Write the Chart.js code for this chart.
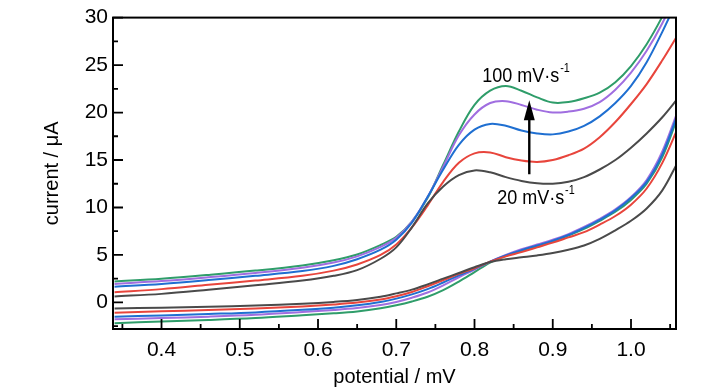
<!DOCTYPE html>
<html><head><meta charset="utf-8">
<script src="https://cdn.jsdelivr.net/npm/chart.js@4"></script>
<style>html,body{margin:0;padding:0;background:#fff}#wrap{width:728px;height:390px;position:relative}</style>
</head><body><div id="wrap"><canvas id="c"></canvas></div>
<script>
// potential grid (axis labelled mV in source)
const potential = [0.34,0.40,0.46,0.52,0.58,0.62,0.65,0.68,0.70,0.72,0.74,0.76,0.78,0.80,0.82,0.84,0.86,0.88,0.90,0.92,0.94,0.96,0.98,1.00,1.02,1.04,1.06];
const scanRates = ['20 mV/s','40 mV/s','60 mV/s','80 mV/s','100 mV/s'];
// forward (upper) branches
const forward20  = [0.63,0.9,1.33,1.8,2.3,2.8,3.4,4.6,5.8,7.9,10.4,12.2,13.4,13.9,13.7,13.2,12.8,12.55,12.5,12.7,13.2,14.0,15.0,16.3,17.8,19.5,21.5];
const forward40  = [1.08,1.4,1.85,2.3,2.8,3.35,4.0,5.0,6.1,7.9,10.2,12.7,14.7,15.7,15.8,15.3,14.95,14.8,15.0,15.5,16.2,17.4,19.0,20.9,23.0,25.5,28.2];
const forward60  = [1.65,1.95,2.35,2.8,3.3,3.85,4.55,5.55,6.6,8.4,11.1,14.0,16.6,18.2,18.8,18.6,18.1,17.8,17.7,18.0,18.6,19.6,21.0,22.8,25.3,28.5,32.0];
const forward80  = [1.95,2.25,2.65,3.1,3.65,4.2,4.85,5.85,6.8,8.5,11.1,14.3,17.6,19.8,21.0,21.2,20.8,20.3,20.0,20.1,20.4,21.1,22.4,24.2,26.5,29.4,33.0];
const forward100 = [2.2,2.5,2.9,3.35,3.9,4.45,5.05,6.05,6.9,8.5,11.0,14.5,18.0,20.8,22.3,22.8,22.3,21.6,21.05,21.1,21.5,22.1,23.2,24.9,27.2,30.1,33.5];
// reverse (lower) branches
const reverse20  = [-0.65,-0.55,-0.45,-0.32,-0.13,0.05,0.25,0.6,0.95,1.35,1.9,2.5,3.1,3.7,4.25,4.55,4.75,4.95,5.2,5.55,6.0,6.7,7.6,8.6,9.9,11.8,14.8];
const reverse40  = [-1.08,-0.93,-0.8,-0.65,-0.42,-0.22,-0.02,0.3,0.65,1.1,1.7,2.35,3.0,3.6,4.3,4.85,5.3,5.8,6.3,6.85,7.4,8.2,9.1,10.3,12.0,14.7,18.4];
const reverse60  = [-1.5,-1.37,-1.22,-1.05,-0.78,-0.55,-0.3,0.05,0.4,0.85,1.4,2.1,2.85,3.55,4.3,4.95,5.5,6.0,6.5,7.1,7.85,8.7,9.7,11.0,12.7,15.6,19.9];
const reverse80  = [-1.78,-1.65,-1.5,-1.3,-1.0,-0.8,-0.6,-0.28,0.05,0.5,1.05,1.8,2.65,3.45,4.3,5.0,5.6,6.1,6.6,7.2,7.95,8.8,9.8,11.1,12.9,15.9,20.2];
const reverse100 = [-2.2,-2.0,-1.85,-1.65,-1.35,-1.15,-0.95,-0.62,-0.3,0.1,0.6,1.3,2.2,3.2,4.2,4.9,5.45,5.95,6.45,7.05,7.75,8.6,9.55,10.8,12.5,15.3,19.6];
// ticks
const xTickLabels = [0.4,0.5,0.6,0.7,0.8,0.9,1.0];
const xMinorTicks = [0.35,0.45,0.55,0.65,0.75,0.85,0.95,1.05];
const yTickLabels = [0,5,10,15,20,25,30];
const yMinorTicks = [-2.5,2.5,7.5,12.5,17.5,22.5,27.5];

const colors = ['#4a4a4a','#e8453c','#1f6fd1','#a06ee0','#2f9d6a'];
const forwards = [forward20,forward40,forward60,forward80,forward100];
const reverses = [reverse20,reverse40,reverse60,reverse80,reverse100];

const datasets = [];
scanRates.forEach((name,i)=>{
  const mk = (arr,suffix)=>({
    label: name+suffix,
    data: potential.map((x,k)=>({x:x,y:arr[k]})),
    showLine:true, borderColor:colors[i], backgroundColor:colors[i],
    borderWidth:2, pointRadius:0, tension:0.35, fill:false
  });
  datasets.push(mk(reverses[i],' reverse'));
  datasets.push(mk(forwards[i],' forward'));
});

const FONT = '"Liberation Sans", Arial, sans-serif';

const frame = {
  id:'frame',
  afterDatasetsDraw(chart){
    const {ctx, chartArea:a, scales:{x,y}} = chart;
    ctx.save();
    ctx.strokeStyle='#000';
    ctx.lineWidth=1.8;
    ctx.beginPath();
    const seg=(x1,y1,x2,y2)=>{ctx.moveTo(x1,y1);ctx.lineTo(x2,y2);};
    xTickLabels.forEach(v=>{const p=x.getPixelForValue(v); seg(p,a.bottom,p,a.bottom-10);});
    xMinorTicks.forEach(v=>{const p=x.getPixelForValue(v); seg(p,a.bottom,p,a.bottom-5);});
    yTickLabels.forEach(v=>{const p=y.getPixelForValue(v); seg(a.left,p,a.left+10,p);});
    yMinorTicks.forEach(v=>{const p=y.getPixelForValue(v); if(p<a.bottom) seg(a.left,p,a.left+5,p);});
    ctx.stroke();
    ctx.lineWidth=2;
    ctx.strokeRect(a.left,a.top,a.right-a.left,a.bottom-a.top);
    // annotations
    const label=(xv,yv,main,sup)=>{
      const px=x.getPixelForValue(xv), py=y.getPixelForValue(yv);
      ctx.save();
      ctx.translate(px,py);
      ctx.scale(0.9,1);
      ctx.fillStyle='#000';
      ctx.textBaseline='middle'; ctx.textAlign='left';
      ctx.font='20px '+FONT;
      ctx.fillText(main,0,0);
      const w=ctx.measureText(main).width;
      ctx.font='12px '+FONT;
      ctx.fillText(sup,w+1,-8);
      ctx.restore();
    };
    label(0.81,23.8,'100 mV\u00B7s','-1');
    label(0.829,10.9,'20 mV\u00B7s','-1');
    // arrow
    const ax=x.getPixelForValue(0.87), y0=y.getPixelForValue(13.5), y1=y.getPixelForValue(21.3);
    ctx.lineWidth=2.4;
    ctx.beginPath(); ctx.moveTo(ax,y0); ctx.lineTo(ax,y1+14); ctx.stroke();
    ctx.fillStyle='#000';
    ctx.beginPath(); ctx.moveTo(ax,y1); ctx.lineTo(ax-5.5,y1+20); ctx.lineTo(ax+5.5,y1+20); ctx.closePath(); ctx.fill();
    ctx.restore();
  }
};

new Chart(document.getElementById('c'),{
  type:'scatter',
  data:{datasets},
  options:{
    responsive:true, maintainAspectRatio:false, animation:false,
    layout:{padding:{top:13,right:52,left:0,bottom:0}},
    plugins:{legend:{display:false},tooltip:{enabled:false}},
    scales:{
      x:{type:'linear',min:0.338,max:1.0575,
        afterBuildTicks:s=>{s.ticks=xTickLabels.map(v=>({value:v}));},
        afterFit:s=>{s.height=61;},
        grid:{display:false,drawTicks:false},
        border:{display:false},
        ticks:{color:'#000',font:{family:FONT,size:21},padding:9,maxRotation:0,callback:v=>Number(v).toFixed(1)},
        title:{display:true,text:'potential / mV',color:'#000',font:{family:FONT,size:20},padding:{top:0,bottom:1}}
      },
      y:{type:'linear',min:-2.8,max:30,
        afterBuildTicks:s=>{s.ticks=yTickLabels.map(v=>({value:v}));},
        afterFit:s=>{s.width=113;},
        grid:{display:false,drawTicks:false},
        border:{display:false},
        ticks:{color:'#000',font:{family:FONT,size:21},padding:5,callback:v=>String(v)},
        title:{display:true,text:'current / \u03BCA',color:'#000',font:{family:FONT,size:20},padding:{top:40,bottom:0}}
      }
    }
  },
  plugins:[frame]
});
</script></body></html>
